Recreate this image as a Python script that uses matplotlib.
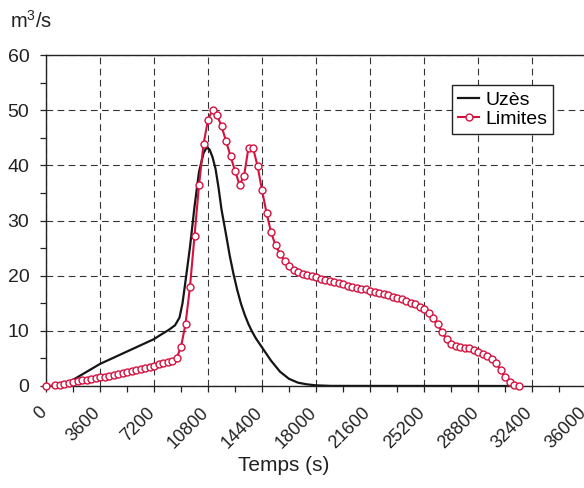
import matplotlib
matplotlib.use("Agg")
import matplotlib.pyplot as plt
import matplotlib.transforms as mtransforms
from matplotlib.ticker import MultipleLocator

plt.rcParams["font.family"] = ["Liberation Sans", "DejaVu Sans"]
plt.rcParams["mathtext.default"] = "regular"

# Uzès hydrograph (time in s, flow in m3/s)
uzes_t = [900, 1200, 3600, 7200, 7600, 8200, 8600, 8900, 9100, 9300, 9600, 9900,
          10200, 10500, 10700, 10900, 11100, 11300, 11500, 11700, 12000, 12250,
          12500, 12750, 13000, 13250, 13500, 13750, 14000, 14400, 15000, 15600,
          16200, 16800, 17400, 18000, 19000, 31500]
uzes_q = [0.0, 0.15, 4.0, 8.5, 9.2, 10.2, 11.0, 12.4, 15.0, 19.0, 25.2, 32.5,
          38.8, 42.2, 43.2, 42.9, 41.5, 39.4, 36.0, 32.0, 27.5, 23.6,
          20.3, 17.4, 14.9, 12.9, 11.2, 9.8, 8.6, 7.0, 4.6, 2.6,
          1.3, 0.6, 0.3, 0.12, 0.02, 0.0]

# Limites hydrograph, one point every 300 s
lim_t = [0] + list(range(600, 31501, 300))
lim_q = [0.0, 0.1, 0.25, 0.4, 0.55, 0.7, 0.85, 1.0, 1.1, 1.25, 1.4,
         1.55, 1.7, 1.85, 2.0, 2.15, 2.3, 2.6, 2.8, 2.95, 3.1, 3.3, 3.5,
         3.7, 3.9, 4.1, 4.3, 4.6, 5.0,
         7.1, 11.2, 18.0, 27.2, 36.4, 43.8, 48.3, 50.0, 49.1, 47.1, 44.4,
         41.7, 39.0, 36.5, 38.0, 43.2, 43.2, 39.9, 35.5, 31.4, 27.9, 25.5,
         24.0, 22.7, 21.7, 21.0, 20.6, 20.3, 20.1, 19.9,
         19.7, 19.4, 19.2, 19.0, 18.8, 18.6, 18.4, 18.2, 18.0, 17.8, 17.6,
         17.5, 17.3, 17.1, 16.9, 16.7, 16.5, 16.2, 16.0, 15.7, 15.4, 15.1,
         14.8, 14.4, 14.0,
         13.2, 12.3, 11.2, 9.8, 8.5, 7.7, 7.3, 7.1, 6.9, 6.8, 6.5, 6.2,
         5.8, 5.4, 4.9, 4.2, 2.9, 1.7, 0.7, 0.1, 0.0]

xticks = list(range(0, 36001, 3600))
yticks = list(range(0, 61, 10))

red = "#d3123f"
ink = "#222222"

fig = plt.figure(figsize=(5.84, 4.88), dpi=100)
ax = fig.add_axes([46 / 584, 1 - 386 / 488, 540 / 584, 331 / 488])

ax.plot(uzes_t, uzes_q, color="#151515", lw=1.6, label="Uzès", zorder=3)
ax.plot(lim_t, lim_q, color=red, lw=1.5, marker="o", ms=5,
        mfc="white", mec=red, mew=1.0, label="Limites", zorder=4,
        clip_on=False)

ax.set_xlim(0, 36000)
ax.set_ylim(0, 60)
ax.set_xticks(xticks)
ax.set_yticks(yticks)
ax.xaxis.set_minor_locator(MultipleLocator(1800))
ax.yaxis.set_minor_locator(MultipleLocator(5))
ax.set_xticklabels([str(v) for v in xticks], rotation=45, ha="right",
                   va="top", fontsize=13, color=ink)
ax.set_yticklabels([str(v) for v in yticks], fontsize=14, color=ink)
ax.tick_params(which="both", direction="out", length=4, width=0.9,
               color=ink)
ax.tick_params(axis="x", which="major", pad=9)
ax.tick_params(axis="y", which="major", pad=8)

# nudge the rotated labels a little to the right, like the original
shift = mtransforms.ScaledTranslation(4 / 100, 0, fig.dpi_scale_trans)
for lbl in ax.get_xticklabels():
    lbl.set_transform(lbl.get_transform() + shift)

ax.grid(True, which="major", color="#333333", lw=0.8,
        linestyle=(0, (6, 4)))
for side in ["left", "bottom", "top"]:
    ax.spines[side].set_color(ink)
    ax.spines[side].set_linewidth(1.0)
ax.spines["right"].set_visible(False)

ax.set_xlabel("Temps (s)", fontsize=15, color=ink)
ax.xaxis.set_label_coords(0.44, -0.21)
fig.text(10 / 584, 1 - 21 / 488, "m$^3$/s", fontsize=14.5, color=ink,
         va="center", ha="left")

leg = ax.legend(loc="upper left", bbox_to_anchor=(0.752, 0.909),
                borderaxespad=0, fancybox=False, edgecolor=ink,
                fontsize=14, handlelength=1.1, handletextpad=0.3,
                borderpad=0.3, labelspacing=0.1, framealpha=1)
leg.get_frame().set_linewidth(1.0)

fig.savefig("out.png", dpi=100)
plt.close()
